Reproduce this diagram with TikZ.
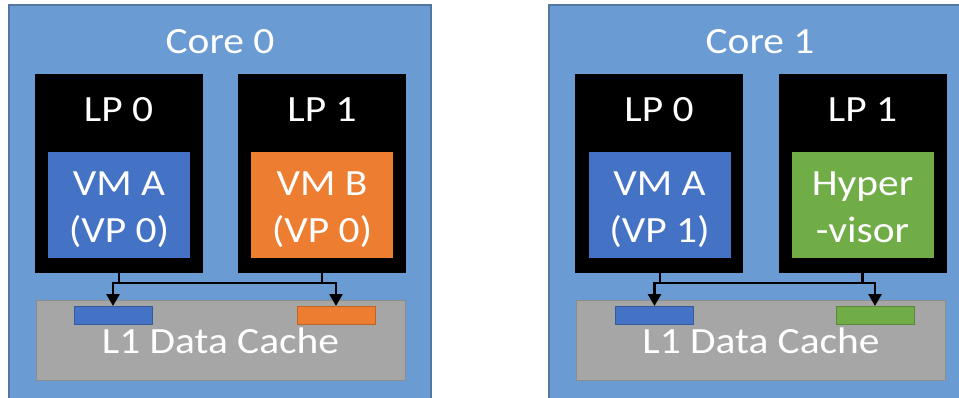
\documentclass[tikz,border=0pt]{standalone}
\usepackage{fontspec}
\setmainfont{Carlito}
\usetikzlibrary{arrows.meta}

\definecolor{coreblue}{RGB}{106,155,210}
\definecolor{coreedge}{RGB}{84,118,160}
\definecolor{vmblue}{RGB}{68,114,196}
\definecolor{vmorange}{RGB}{237,125,49}
\definecolor{hvgreen}{RGB}{112,173,71}
\definecolor{cachegray}{RGB}{166,166,166}
\definecolor{cacheedge}{RGB}{140,140,140}

% labels are set slightly wide
\newcommand{\widetext}[1]{\scalebox{1.12}[1]{#1}}

\tikzset{
  box/.style={rectangle, inner sep=0pt, outer sep=0pt},
  corebox/.style={box, fill=coreblue, draw=coreedge, line width=1.2pt,
                  minimum width=422, minimum height=400},
  lpbox/.style={box, fill=black, minimum width=168, minimum height=199},
  vmbox/.style={box, fill=#1, minimum width=142, minimum height=106},
  cachebox/.style={box, fill=cachegray, draw=cacheedge, line width=0.8pt,
                   minimum width=369, minimum height=80},
  bar/.style={box, fill=#1, draw=#1!80!black, line width=0.6pt,
              minimum width=78, minimum height=18},
  lbl/.style={inner sep=0pt, anchor=base, text=white,
              font=\fontsize{37}{42}\selectfont},
  conn/.style={draw=black, line width=2.8pt,
               -{Triangle[length=12pt,width=13pt]}},
}

\begin{document}
\begin{tikzpicture}[x=1pt, y=-1pt]
  \useasboundingbox (0,0) rectangle (959,397);
  \fill[white] (0,0) rectangle (959,397);

  % ---------- Core 0 ----------
  \node[corebox] (core0) at (220,205) {};
  \node[lbl] (core0t) at (220,53) {\widetext{Core 0}};

  \node[lpbox] (c0lp0) at (118.5,173.5) {};
  \node[lpbox] (c0lp1) at (322,173.5) {};
  \node[lbl] (c0lp0t) at (118.5,121) {\widetext{LP 0}};
  \node[lbl] (c0lp1t) at (322,121) {\widetext{LP 1}};

  \node[vmbox=vmblue]   (c0vm0) at (119,205) {};
  \node[vmbox=vmorange] (c0vm1) at (322,205) {};
  \node[lbl] (c0vm0a) at (119,195) {\widetext{VM A}};
  \node[lbl] (c0vm0b) at (119,242) {\widetext{(VP 0)}};
  \node[lbl] (c0vm1a) at (322,195) {\widetext{VM B}};
  \node[lbl] (c0vm1b) at (322,242) {\widetext{(VP 0)}};

  \node[cachebox] (c0cache) at (220.5,340) {};
  \node[lbl] (c0cachet) at (220.5,353) {\widetext{L1 Data Cache}};
  \node[bar=vmblue]   (c0bar0) at (113,315) {};
  \node[bar=vmorange] (c0bar1) at (336,315) {};

  \draw[conn] (c0lp0.south -| 119,0) -- ++(0,10) -| (c0bar1.north);
  \draw[conn] (c0lp1.south) -- ++(0,10) -| (c0bar0.north);

  % ---------- Core 1 ----------
  \node[corebox] (core1) at (760,205) {};
  \node[lbl] (core1t) at (760,53) {\widetext{Core 1}};

  \node[lpbox] (c1lp0) at (659,173.5) {};
  \node[lpbox] (c1lp1) at (862.5,173.5) {};
  \node[lbl] (c1lp0t) at (659,121) {\widetext{LP 0}};
  \node[lbl] (c1lp1t) at (862.5,121) {\widetext{LP 1}};

  \node[vmbox=vmblue]  (c1vm0) at (659.5,205) {};
  \node[vmbox=hvgreen] (c1vm1) at (862.5,205) {};
  \node[lbl] (c1vm0a) at (659.5,195) {\widetext{VM A}};
  \node[lbl] (c1vm0b) at (659.5,242) {\widetext{(VP 1)}};
  \node[lbl] (c1vm1a) at (862.5,195) {\widetext{Hyper}};
  \node[lbl] (c1vm1b) at (862.5,242) {\widetext{-visor}};

  \node[cachebox] (c1cache) at (761,340) {};
  \node[lbl] (c1cachet) at (761,353) {\widetext{L1 Data Cache}};
  \node[bar=vmblue]  (c1bar0) at (654.5,315) {};
  \node[bar=hvgreen] (c1bar1) at (875,315) {};

  \draw[conn] (c1lp0.south -| 660,0) -- ++(0,10) -| (c1bar1.north);
  \draw[conn] (c1lp1.south) -- ++(0,10) -| (c1bar0.north);
\end{tikzpicture}
\end{document}
